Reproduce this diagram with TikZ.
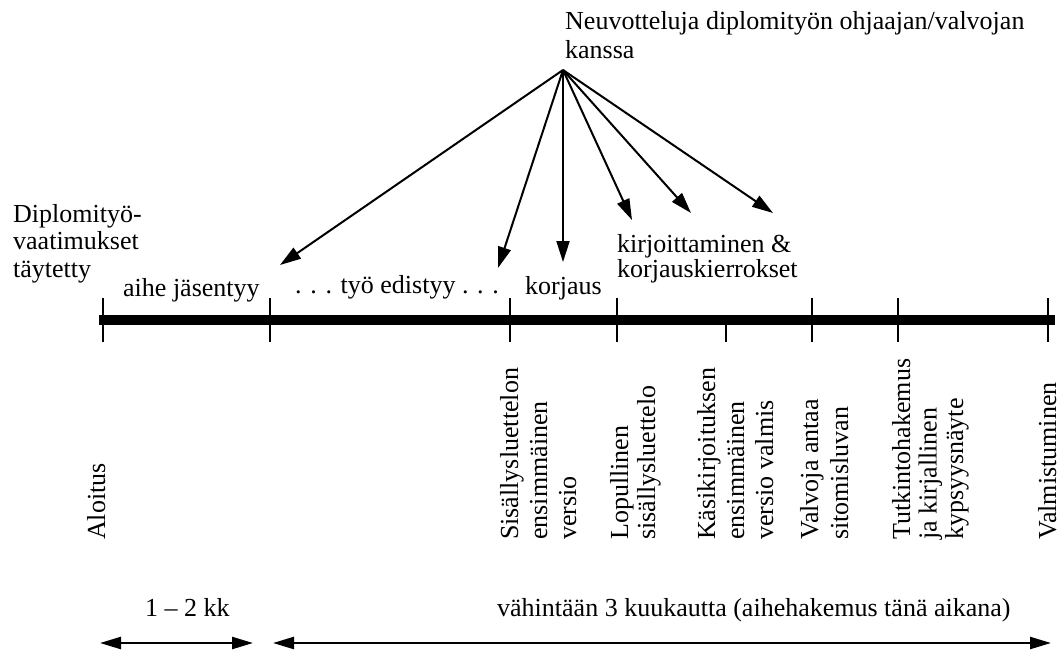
\documentclass[tikz,border=0pt]{standalone}
\usepackage{fontspec}
\setmainfont{Liberation Serif}
\usetikzlibrary{arrows.meta}
\tikzset{
  lbl/.style={inner sep=0pt, font=\fontsize{26}{29}\selectfont, align=left},
  rlbl/.style={lbl, rotate=90, anchor=north west},
  arr/.style={line width=2pt, -{Triangle[length=21pt,width=13pt]}},
  darr/.style={line width=2.4pt, {Triangle[length=21pt,width=12pt]}-{Triangle[length=21pt,width=12pt]}},
  tick/.style={line width=1.3pt},
  timeline/.style={line width=9.5pt}
}
\begin{document}
\begin{tikzpicture}[x=1pt,y=-1pt]
\useasboundingbox (0,0) rectangle (1061,653);
% timeline
\draw[timeline] (99,320) -- (1055,320);
\foreach \x in {103,270,510,617,812,898,1048}
  \draw[tick] (\x,298) -- (\x,342);
\draw[tick] (726,320) -- (726,342);
% top labels
\node[lbl, anchor=north west] (neuv) at (565,11) {Neuvotteluja diplomityön ohjaajan/valvojan\\kanssa};
\node[lbl, anchor=north west, font=\fontsize{26}{27.5}\selectfont] (dipl) at (13,204) {Diplomityö-\\vaatimukset\\täytetty};
\node[lbl, anchor=base west] (aihe) at (123,296) {aihe jäsentyy};
\node[lbl, anchor=base west] (tyo) at (295,293) {. . . työ edistyy . . .};
\node[lbl, anchor=base west] (korj) at (525,294) {korjaus};
\node[lbl, anchor=north west, font=\fontsize{26}{25}\selectfont] (kirj) at (617,234) {kirjoittaminen \&\\korjauskierrokset};
% rotated labels
\node[rlbl] (aloitus) at (87,540) {Aloitus};
\node[rlbl] (sis) at (500,540) {Sisällysluettelon\\ensimmäinen\\versio};
\node[rlbl, font=\fontsize{26}{27}\selectfont] (lop) at (610,540) {Lopullinen\\sisällysluettelo};
\node[rlbl] (kasi) at (697,540) {Käsikirjoituksen\\ensimmäinen\\versio valmis};
\node[rlbl, font=\fontsize{26}{30}\selectfont] (valv) at (800,540) {Valvoja antaa\\sitomisluvan};
\node[rlbl, font=\fontsize{26}{26.5}\selectfont] (tutk) at (892,540) {Tutkintohakemus\\ja kirjallinen\\kypsyysnäyte};
\node[rlbl] (valm) at (1038,540) {Valmistuminen};
% arrows from consultation
\coordinate (src) at (563,70);
\coordinate (t1) at (280,265);
\coordinate (t2) at (498,268);
\coordinate (t3) at (563,262);
\coordinate (t4) at (632,220);
\coordinate (t5) at (691,213);
\coordinate (t6) at (773,213);
\foreach \t in {t1,t2,t3,t4,t5,t6}
  \draw[arr] (src) -- (\t);
% bottom
\node[lbl, anchor=base west] (kk) at (145,616) {1 – 2 kk};
\node[lbl, anchor=base west] (vah) at (497,616) {vähintään 3 kuukautta (aihehakemus tänä aikana)};
\coordinate (a1) at (100,643);
\coordinate (a2) at (253,643);
\coordinate (b1) at (273,643);
\coordinate (b2) at (1051,643);
\draw[darr] (a1) -- (a2);
\draw[darr] (b1) -- (b2);
\end{tikzpicture}
\end{document}
